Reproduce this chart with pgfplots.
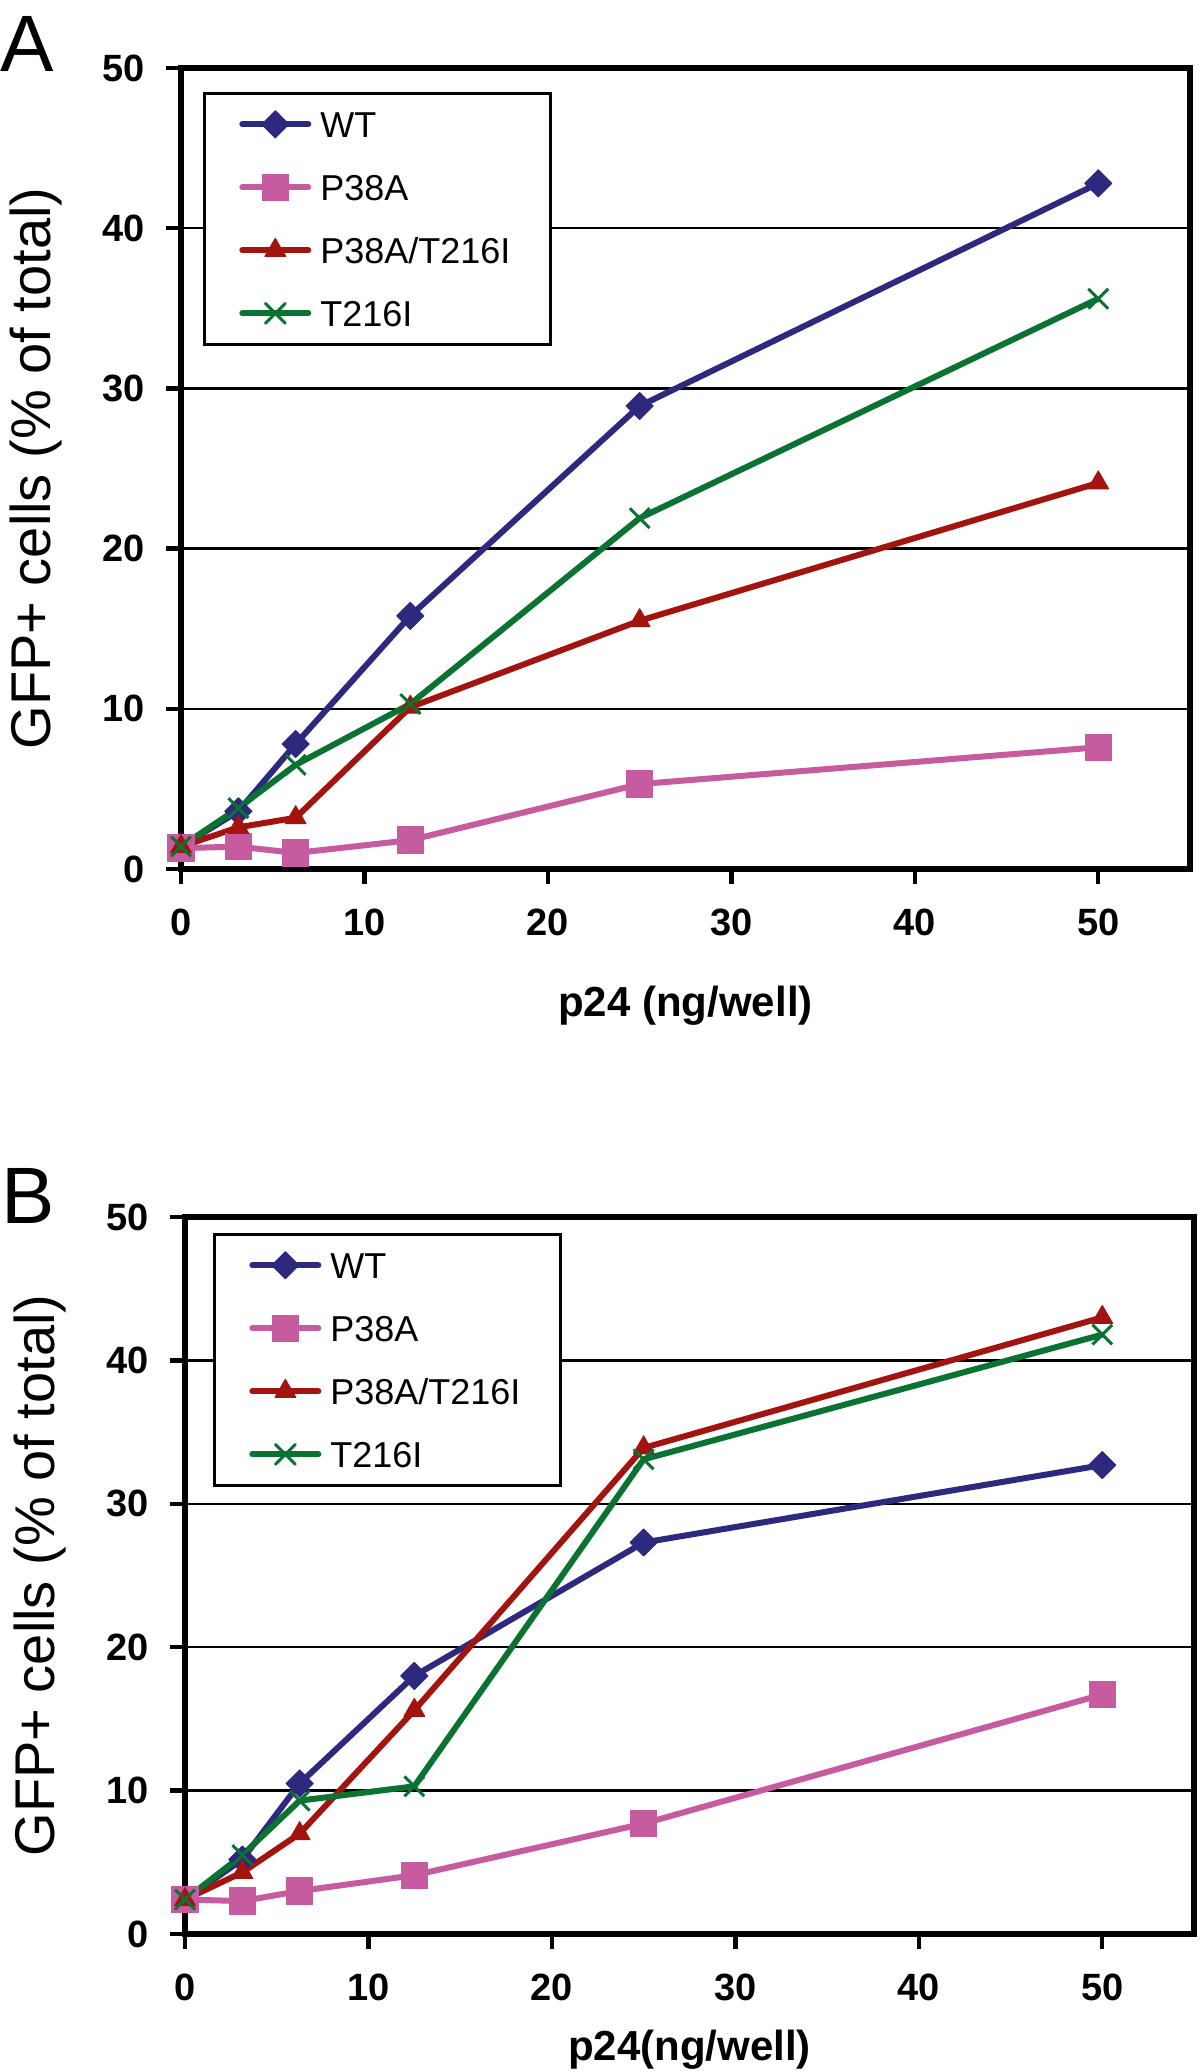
\documentclass[border=0pt]{standalone}
\usepackage{fontspec}
\setmainfont{Liberation Sans}
\usepackage{pgfplots}
\pgfplotsset{compat=1.18}

\definecolor{cWT}{RGB}{44,41,126}
\definecolor{cP}{RGB}{199,91,160}
\definecolor{cR}{RGB}{163,20,15}
\definecolor{cG}{RGB}{10,115,50}

\pgfplotsset{
  panel/.style={
    scale only axis, width=504.5pt,
    xmin=0, xmax=55, ymin=0, ymax=50,
    xtick={0,10,20,30,40,50}, ytick={0,10,20,30,40,50},
    xtick pos=left, ytick pos=left,
    tick align=outside,
    major tick length=7.5pt,
    tick style={black, line width=2.2pt},
    axis line style={line width=3pt},
    ymajorgrids, grid style={black, line width=1.2pt},
    clip=false,
    /pgf/number format/assume math mode=true,
    ticklabel style={font=\fontsize{19}{19}\selectfont\bfseries, inner sep=0pt},
    yticklabel style={anchor=east, xshift=-10.5pt},
    xticklabel style={anchor=center, yshift=-19pt},
    ylabel={GFP+ cells (\% of total)},
    ylabel style={font=\fontsize{28}{28}\selectfont, at={(axis description cs:-0.1437,0.5)}, anchor=center},
    legend cell align=left,
    legend image code/.code={
      \draw[mark repeat=2,mark phase=2,line cap=round,#1] plot coordinates {(0pt,0pt) (16.5pt,0pt) (33pt,0pt)};
      \path (37.5pt,0pt);
    },
  },
  lgd/.style={
    legend style={at={#1}, anchor=north west, draw=black, line width=1.3pt, fill=white,
      inner xsep=17.5pt, inner ysep=7.95pt, row sep=16.4pt,
      font=\fontsize{18}{18}\selectfont,
      nodes={inner sep=0pt, text height=14pt, text depth=1.1pt}},
  },
  wt/.style={cWT, line width=3pt, line join=round, mark=square*, mark size=4.8pt, mark options={rotate=45, solid, line width=0.5pt}},
  pa/.style={cP, line width=3pt, line join=round, mark=square*, mark size=6.6pt, mark options={solid, line width=0.5pt}},
  pr/.style={cR, line width=3pt, line join=round, mark=triangle*, mark size=6pt, mark options={solid, line width=0.5pt}},
  tg/.style={cG, line width=3pt, line join=round, mark=x, mark size=7pt, mark options={solid, line width=1.5pt}},
}
\newcommand\lt[1]{\makebox[97.5pt][l]{#1}}

\begin{document}
\begin{tikzpicture}
\useasboundingbox (0,0) rectangle (600pt,-1035.5pt);

\node[anchor=base west, inner sep=0pt, font=\fontsize{40}{40}\selectfont] at (0pt,-36pt) {A};
\node[anchor=base west, inner sep=0pt, font=\fontsize{40}{40}\selectfont] at (0.6pt,-611.5pt) {B};

% Panel A
\begin{axis}[panel, at={(90.5pt,-34pt)}, anchor=north west, height=400.5pt,
  lgd={(axis description cs:0.0218,0.97)},
  xlabel={p24 (ng/well)},
  xlabel style={font=\fontsize{21}{21}\selectfont\bfseries, at={(axis description cs:0.5,-0.171)}, anchor=center}]
\addplot[wt] coordinates {(0,1.4) (3.125,3.6) (6.25,7.8) (12.5,15.8) (25,28.9) (50,42.8)};
\addlegendentry{\lt{WT}}
\addplot[pa] coordinates {(0,1.3) (3.125,1.4) (6.25,1.0) (12.5,1.8) (25,5.3) (50,7.6)};
\addlegendentry{\lt{P38A}}
\addplot[pr] coordinates {(0,1.4) (3.125,2.6) (6.25,3.2) (12.5,10.1) (25,15.5) (50,24.1)};
\addlegendentry{\lt{P38A/T216I}}
\addplot[tg] coordinates {(0,1.4) (3.125,3.8) (6.25,6.5) (12.5,10.3) (25,21.9) (50,35.6)};
\addlegendentry{\lt{T216I}}
\end{axis}

% Panel B
\begin{axis}[panel, at={(92.5pt,-608.5pt)}, anchor=north west, height=358.5pt,
  lgd={(axis description cs:0.0278,0.9777)},
  xlabel={p24(ng/well)},
  xlabel style={font=\fontsize{21}{21}\selectfont\bfseries, at={(axis description cs:0.5,-0.161)}, anchor=center}]
\addplot[wt] coordinates {(0,2.4) (3.125,5.2) (6.25,10.5) (12.5,18.0) (25,27.3) (50,32.7)};
\addlegendentry{\lt{WT}}
\addplot[pa] coordinates {(0,2.4) (3.125,2.3) (6.25,3.0) (12.5,4.1) (25,7.7) (50,16.7)};
\addlegendentry{\lt{P38A}}
\addplot[pr] coordinates {(0,2.4) (3.125,4.3) (6.25,7.0) (12.5,15.6) (25,33.9) (50,43.0)};
\addlegendentry{\lt{P38A/T216I}}
\addplot[tg] coordinates {(0,2.4) (3.125,5.5) (6.25,9.3) (12.5,10.3) (25,33.1) (50,41.8)};
\addlegendentry{\lt{T216I}}
\end{axis}
\end{tikzpicture}
\end{document}
